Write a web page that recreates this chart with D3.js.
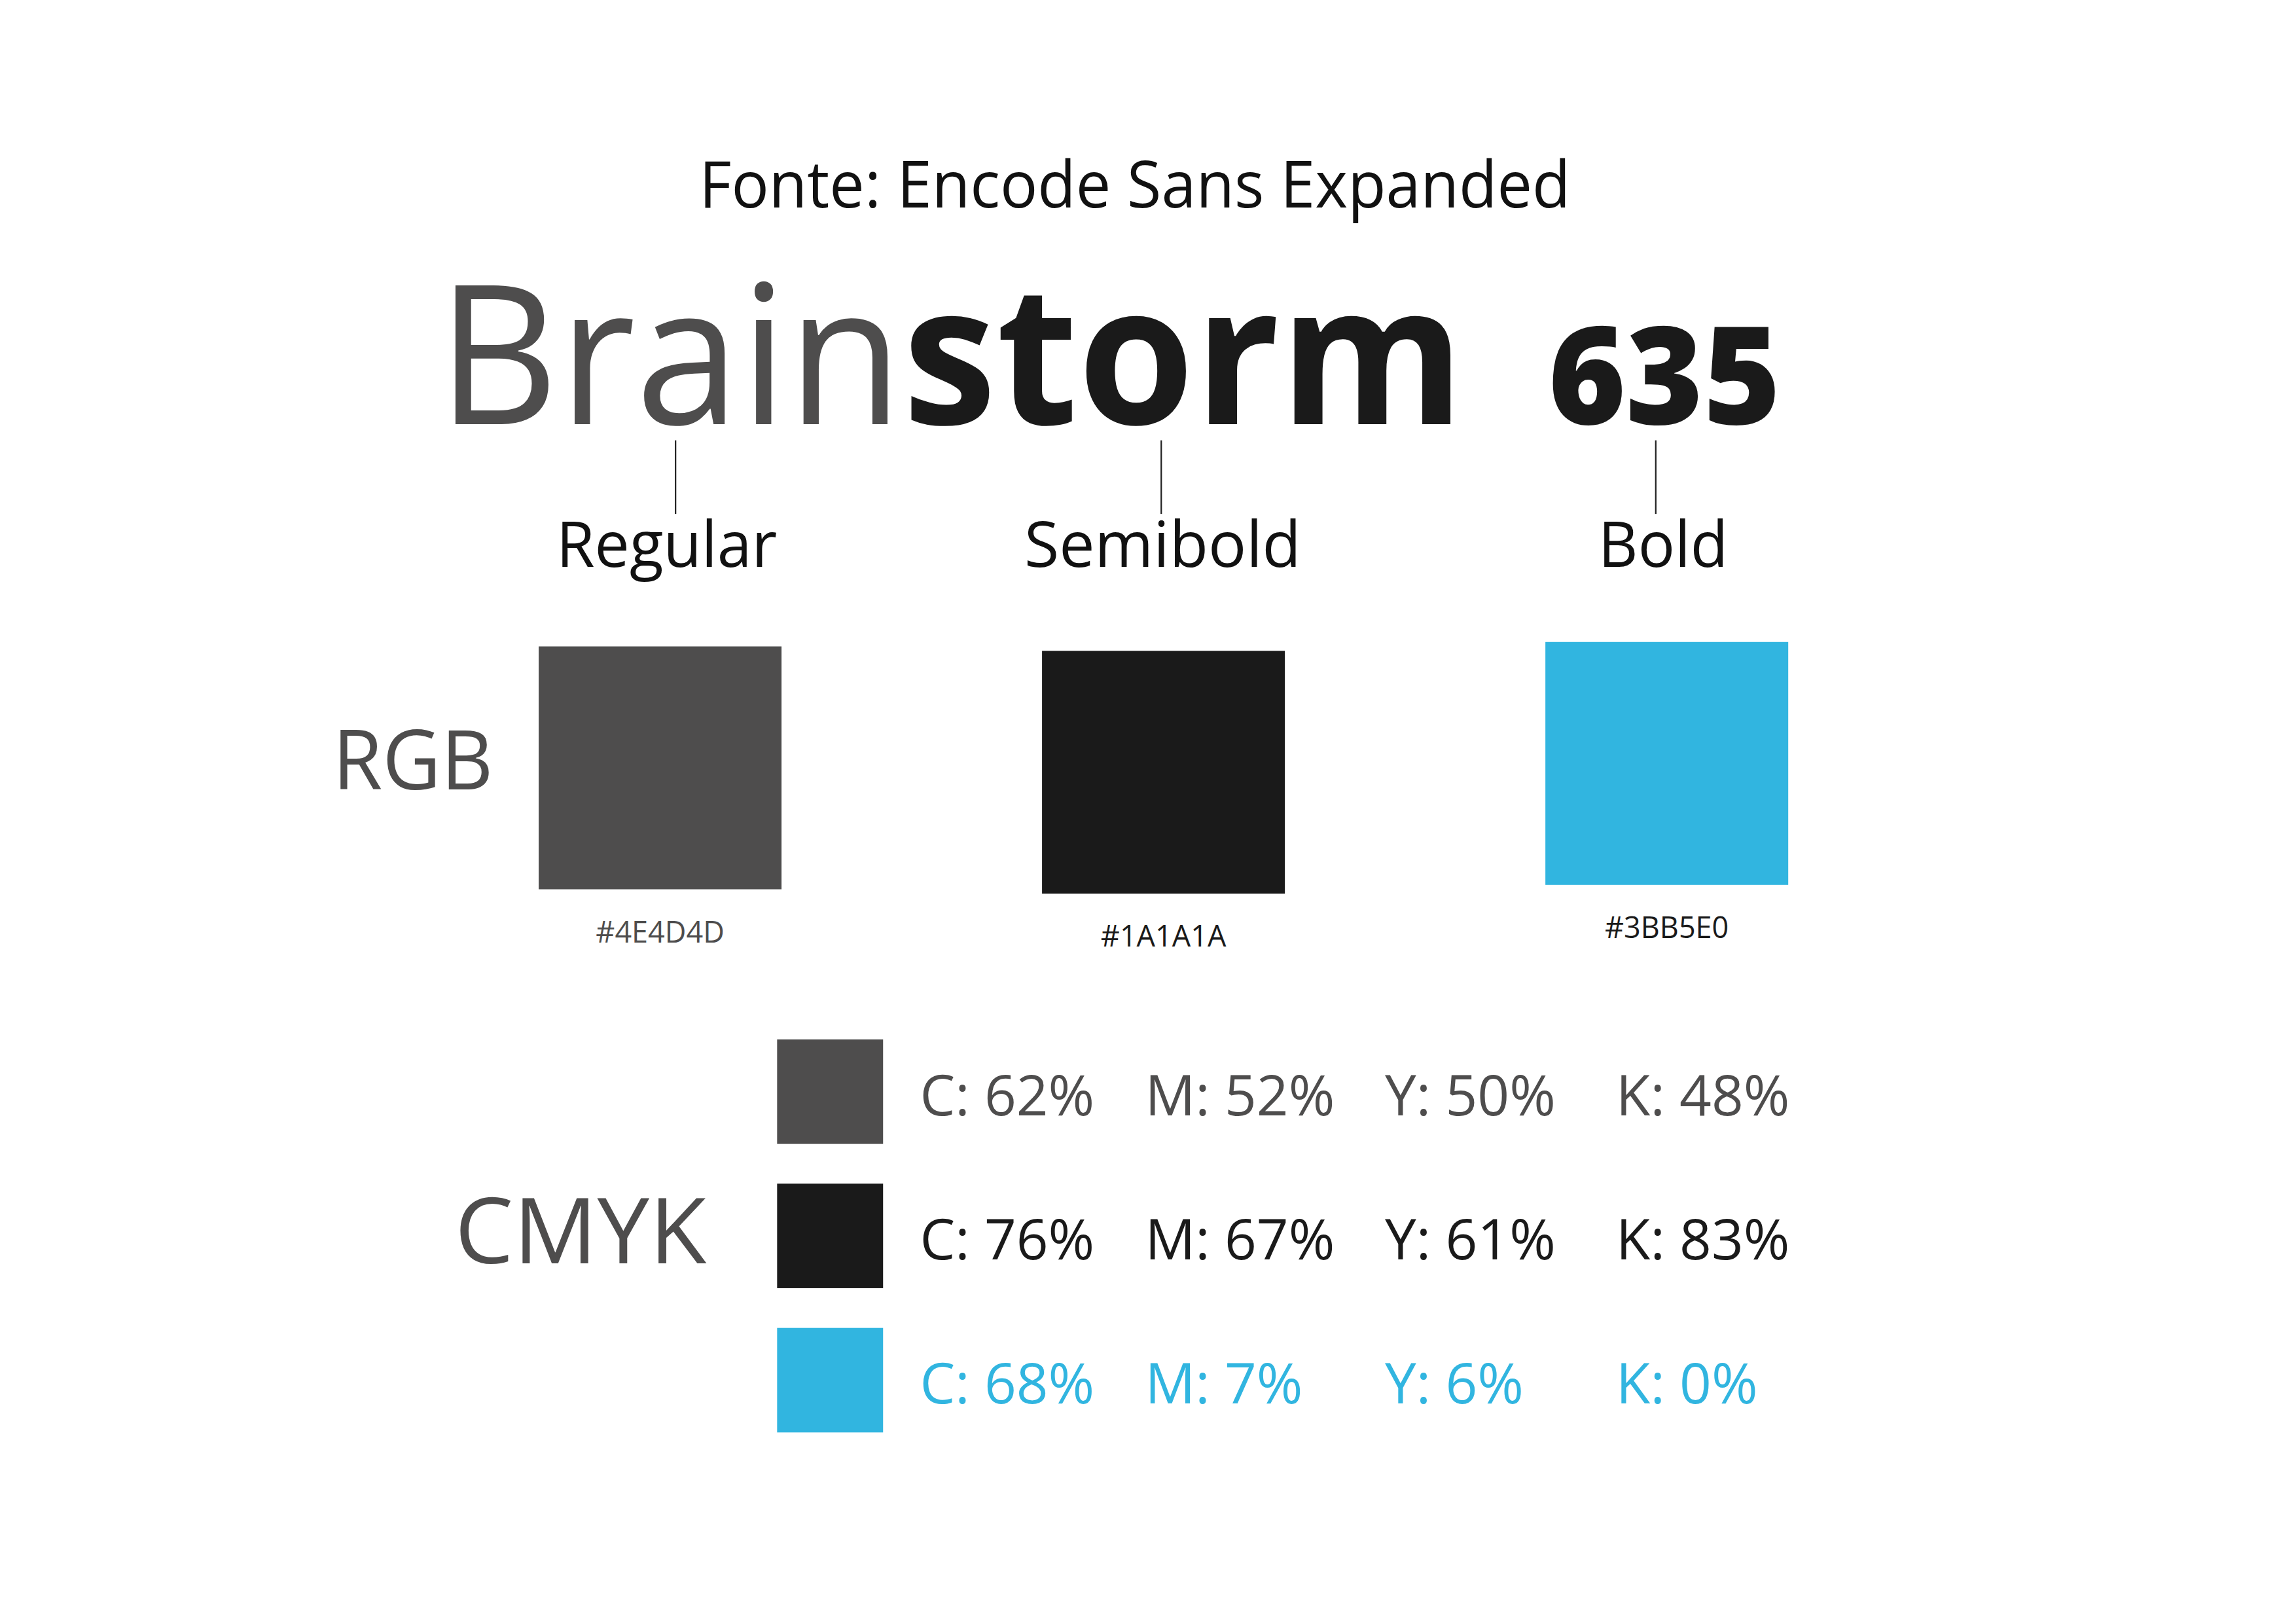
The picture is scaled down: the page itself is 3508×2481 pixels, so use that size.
<!DOCTYPE html>
<html lang="pt">
<head>
  <meta charset="UTF-8">
  <title>Brainstorm 635 - paleta</title>
  <script src="https://d3js.org/d3.v7.min.js"></script>
  <style>
    body { margin: 0; padding: 0; background: #fff; }
    svg { display: block; }
    text { font-family: "Open Sans", "Noto Sans", sans-serif; }
  </style>
</head>
<body>
  <div id="chart"></div>
  <script>
    // data
    const weights  = ["Regular", "Semibold", "Bold"];
    const hexCodes = ["#4E4D4D", "#1A1A1A", "#3BB5E0"];
    const swatchColors = ["#4e4d4d", "#1a1a1a", "#31b5e0"];
    const cmykKeys = ["C", "M", "Y", "K"];
    const cmykValues = [
      [62, 52, 50, 48],
      [76, 67, 61, 83],
      [68, 7, 6, 0]
    ];
    const rgbYOffset = [0, 3, -3];

    // drawing in a 1560 x 1103 space scaled up to the page
    const W = 1560, H = 1103;
    const svg = d3.select("#chart").append("svg")
      .attr("width", 3508).attr("height", 2481)
      .attr("viewBox", `0 0 ${W} ${H}`);

    // title
    svg.append("text")
      .attr("x", 771).attr("y", 141)
      .attr("text-anchor", "middle")
      .style("font-size", "44px").style("fill", "#111")
      .attr("textLength", 592).attr("lengthAdjust", "spacingAndGlyphs")
      .text("Fonte: Encode Sans Expanded");

    // wordmark
    const word = svg.append("text")
      .attr("x", 297).attr("y", 288)
      .style("font-size", "132px")
      .attr("textLength", 698).attr("lengthAdjust", "spacingAndGlyphs");
    word.append("tspan").style("fill", "#4e4d4d").style("font-weight", 400).text("Brain");
    word.append("tspan").style("fill", "#1a1a1a").style("font-weight", 700).text("storm");

    svg.append("text")
      .attr("x", 1052).attr("y", 288)
      .style("font-size", "92px").style("font-weight", 800).style("fill", "#1a1a1a")
      .attr("textLength", 158).attr("lengthAdjust", "spacingAndGlyphs")
      .text("635");

    // column scale for the three weights (left edge of each swatch)
    const col = d3.scalePoint().domain(d3.range(weights.length)).range([366, 1050]);
    const tickX = [459, 789, 1125];
    const labelX = [453, 790, 1130];

    const g = svg.append("g");
    g.selectAll("line").data(weights).join("line")
      .attr("x1", (d, i) => tickX[i]).attr("x2", (d, i) => tickX[i])
      .attr("y1", 299).attr("y2", 349)
      .attr("stroke", "#222").attr("stroke-width", 1);

    g.selectAll("text").data(weights).join("text")
      .attr("x", (d, i) => labelX[i]).attr("y", 385)
      .attr("text-anchor", "middle")
      .style("font-size", "43px").style("fill", "#111")
      .attr("textLength", (d, i) => [150, 188, 88][i]).attr("lengthAdjust", "spacingAndGlyphs")
      .text(d => d);

    // RGB swatches
    svg.append("text").attr("x", 226).attr("y", 536)
      .style("font-size", "56px").style("fill", "#4e4d4d")
      .attr("textLength", 109).attr("lengthAdjust", "spacingAndGlyphs")
      .text("RGB");

    const sw = 165;
    svg.selectAll("rect.rgb").data(swatchColors).join("rect")
      .attr("class", "rgb")
      .attr("x", (d, i) => col(i)).attr("y", (d, i) => 439 + rgbYOffset[i])
      .attr("width", sw).attr("height", sw)
      .attr("fill", d => d);

    svg.selectAll("text.hex").data(hexCodes).join("text")
      .attr("class", "hex")
      .attr("x", (d, i) => col(i) + sw / 2).attr("y", (d, i) => 640 + rgbYOffset[i])
      .attr("text-anchor", "middle")
      .style("font-size", "20px").style("fill", (d, i) => i === 0 ? "#4e4d4d" : "#1a1a1a")
      .text(d => d);

    // CMYK block
    svg.append("text").attr("x", 309).attr("y", 858)
      .style("font-size", "62px").style("fill", "#4e4d4d")
      .attr("textLength", 171).attr("lengthAdjust", "spacingAndGlyphs")
      .text("CMYK");

    const row = d3.scaleBand().domain(d3.range(cmykValues.length))
      .range([706, 973]).paddingInner(0.2755);
    const keyX = d3.scaleOrdinal().domain(cmykKeys).range([625, 778, 941, 1098]);

    const rows = svg.selectAll("g.cmyk").data(cmykValues).join("g")
      .attr("class", "cmyk")
      .attr("transform", (d, i) => `translate(0,${row(i)})`);

    rows.append("rect")
      .attr("x", 528).attr("y", 0)
      .attr("width", 72).attr("height", row.bandwidth())
      .attr("fill", (d, i) => swatchColors[i]);

    rows.each(function(vals, i) {
      d3.select(this).selectAll("text").data(vals).join("text")
        .attr("x", (v, j) => keyX(cmykKeys[j]))
        .attr("y", row.bandwidth() / 2 + 16)
        .style("font-size", "38px")
        .style("fill", swatchColors[i])
        .text((v, j) => `${cmykKeys[j]}: ${v}%`);
    });
  </script>
</body>
</html>
